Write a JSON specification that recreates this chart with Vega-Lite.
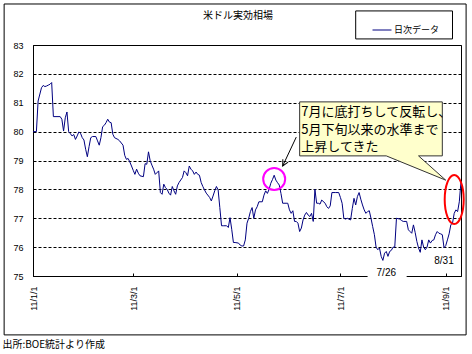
{
  "$schema": "https://vega.github.io/schema/vega-lite/v6.json",
  "width": 428,
  "height": 231,
  "autosize": "none",
  "padding": {"left": 33, "top": 45, "right": 11, "bottom": 78},
  "background": "white",
  "title": {"text": "米ドル実効相場", "frame": "group", "font": "Noto Sans CJK JP", "fontSize": 10, "fontWeight": "normal", "color": "black", "anchor": "middle", "dx": -9, "offset": -18},
  "config": {"view": {"stroke": "black", "strokeWidth": 1}, "font": "Liberation Sans"},
  "datasets": {
    "fx": [
      {"date":"2011-01-01","value":80.00},{"date":"2011-01-03","value":80.00},{"date":"2011-01-04","value":81.06},{"date":"2011-01-06","value":81.52},{"date":"2011-01-07","value":81.60},{"date":"2011-01-08","value":81.56},{"date":"2011-01-09","value":81.58},{"date":"2011-01-10","value":81.61},{"date":"2011-01-11","value":81.64},{"date":"2011-01-12","value":81.70},{"date":"2011-01-13","value":80.52},{"date":"2011-01-17","value":80.52},{"date":"2011-01-18","value":80.43},{"date":"2011-01-19","value":80.02},{"date":"2011-01-20","value":80.48},{"date":"2011-01-21","value":80.68},{"date":"2011-01-22","value":80.00},{"date":"2011-01-23","value":79.93},{"date":"2011-01-24","value":79.85},{"date":"2011-01-25","value":79.90},{"date":"2011-01-26","value":79.73},{"date":"2011-01-27","value":79.85},{"date":"2011-01-28","value":79.99},{"date":"2011-01-29","value":79.94},{"date":"2011-01-30","value":79.79},{"date":"2011-01-31","value":79.71},
      {"date":"2011-02-01","value":79.39},{"date":"2011-02-02","value":79.13},{"date":"2011-02-03","value":79.48},{"date":"2011-02-04","value":79.79},{"date":"2011-02-05","value":79.83},{"date":"2011-02-07","value":79.83},{"date":"2011-02-08","value":79.68},{"date":"2011-02-09","value":79.53},{"date":"2011-02-10","value":79.79},{"date":"2011-02-11","value":80.17},{"date":"2011-02-12","value":80.22},{"date":"2011-02-13","value":80.31},{"date":"2011-02-14","value":80.43},{"date":"2011-02-15","value":80.33},{"date":"2011-02-16","value":80.31},{"date":"2011-02-17","value":79.91},{"date":"2011-02-18","value":79.79},{"date":"2011-02-20","value":79.73},{"date":"2011-02-21","value":79.68},{"date":"2011-02-23","value":79.53},{"date":"2011-02-24","value":79.18},{"date":"2011-02-25","value":79.04},{"date":"2011-02-26","value":79.07},{"date":"2011-02-27","value":78.95},{"date":"2011-02-28","value":78.81},
      {"date":"2011-03-01","value":78.66},{"date":"2011-03-02","value":78.52},{"date":"2011-03-03","value":78.70},{"date":"2011-03-04","value":78.56},{"date":"2011-03-05","value":78.47},{"date":"2011-03-07","value":78.44},{"date":"2011-03-08","value":78.89},{"date":"2011-03-09","value":78.87},{"date":"2011-03-10","value":79.30},{"date":"2011-03-11","value":78.99},{"date":"2011-03-12","value":78.84},{"date":"2011-03-13","value":78.70},{"date":"2011-03-14","value":78.52},{"date":"2011-03-16","value":78.64},{"date":"2011-03-17","value":77.89},{"date":"2011-03-18","value":77.83},{"date":"2011-03-19","value":78.18},{"date":"2011-03-20","value":78.06},{"date":"2011-03-21","value":78.00},{"date":"2011-03-22","value":77.87},{"date":"2011-03-23","value":77.80},{"date":"2011-03-24","value":78.10},{"date":"2011-03-25","value":77.95},{"date":"2011-03-26","value":77.83},{"date":"2011-03-27","value":78.12},{"date":"2011-03-28","value":78.24},{"date":"2011-03-30","value":78.41},{"date":"2011-03-31","value":78.64},
      {"date":"2011-04-01","value":78.58},{"date":"2011-04-02","value":78.47},{"date":"2011-04-03","value":78.81},{"date":"2011-04-04","value":78.70},{"date":"2011-04-05","value":78.64},{"date":"2011-04-06","value":78.52},{"date":"2011-04-07","value":78.60},{"date":"2011-04-08","value":78.52},{"date":"2011-04-09","value":78.49},{"date":"2011-04-10","value":78.24},{"date":"2011-04-11","value":78.10},{"date":"2011-04-12","value":77.98},{"date":"2011-04-13","value":77.87},{"date":"2011-04-15","value":77.72},{"date":"2011-04-16","value":77.60},{"date":"2011-04-17","value":77.77},{"date":"2011-04-18","value":77.95},{"date":"2011-04-19","value":78.10},{"date":"2011-04-20","value":77.98},{"date":"2011-04-21","value":77.37},{"date":"2011-04-22","value":76.74},{"date":"2011-04-23","value":76.74},{"date":"2011-04-25","value":76.74},{"date":"2011-04-26","value":76.68},{"date":"2011-04-27","value":77.02},{"date":"2011-04-28","value":76.62},{"date":"2011-04-29","value":76.16},{"date":"2011-04-30","value":76.16},
      {"date":"2011-05-02","value":76.14},{"date":"2011-05-03","value":76.07},{"date":"2011-05-04","value":76.04},{"date":"2011-05-05","value":76.04},{"date":"2011-05-06","value":76.25},{"date":"2011-05-07","value":76.83},{"date":"2011-05-08","value":77.00},{"date":"2011-05-09","value":77.23},{"date":"2011-05-10","value":77.37},{"date":"2011-05-11","value":77.00},{"date":"2011-05-12","value":77.29},{"date":"2011-05-13","value":77.40},{"date":"2011-05-14","value":77.57},{"date":"2011-05-16","value":77.57},{"date":"2011-05-17","value":77.80},{"date":"2011-05-18","value":77.95},{"date":"2011-05-19","value":77.86},{"date":"2011-05-20","value":78.00},{"date":"2011-05-21","value":78.21},{"date":"2011-05-22","value":78.34},{"date":"2011-05-23","value":78.49},{"date":"2011-05-24","value":78.32},{"date":"2011-05-25","value":78.23},{"date":"2011-05-26","value":78.15},{"date":"2011-05-27","value":77.86},{"date":"2011-05-28","value":77.52},{"date":"2011-05-30","value":77.52},{"date":"2011-05-31","value":77.52},
      {"date":"2011-06-01","value":77.29},{"date":"2011-06-02","value":77.17},{"date":"2011-06-03","value":77.26},{"date":"2011-06-04","value":76.89},{"date":"2011-06-05","value":76.89},{"date":"2011-06-06","value":76.83},{"date":"2011-06-07","value":76.54},{"date":"2011-06-08","value":76.66},{"date":"2011-06-09","value":76.94},{"date":"2011-06-10","value":77.11},{"date":"2011-06-11","value":77.20},{"date":"2011-06-12","value":77.11},{"date":"2011-06-13","value":77.06},{"date":"2011-06-14","value":77.17},{"date":"2011-06-15","value":76.89},{"date":"2011-06-16","value":78.00},{"date":"2011-06-17","value":77.52},{"date":"2011-06-18","value":77.52},{"date":"2011-06-19","value":77.49},{"date":"2011-06-20","value":77.63},{"date":"2011-06-22","value":77.52},{"date":"2011-06-23","value":77.40},{"date":"2011-06-24","value":77.34},{"date":"2011-06-25","value":77.43},{"date":"2011-06-26","value":77.89},{"date":"2011-06-28","value":77.89},{"date":"2011-06-30","value":77.89},
      {"date":"2011-07-01","value":77.72},{"date":"2011-07-02","value":77.52},{"date":"2011-07-03","value":77.00},{"date":"2011-07-04","value":76.97},{"date":"2011-07-05","value":77.00},{"date":"2011-07-07","value":76.94},{"date":"2011-07-08","value":77.34},{"date":"2011-07-09","value":77.69},{"date":"2011-07-10","value":77.46},{"date":"2011-07-11","value":77.75},{"date":"2011-07-12","value":77.89},{"date":"2011-07-13","value":77.66},{"date":"2011-07-14","value":77.46},{"date":"2011-07-15","value":77.29},{"date":"2011-07-16","value":77.17},{"date":"2011-07-17","value":77.23},{"date":"2011-07-18","value":77.26},{"date":"2011-07-19","value":77.00},{"date":"2011-07-20","value":76.71},{"date":"2011-07-21","value":76.43},{"date":"2011-07-22","value":76.00},{"date":"2011-07-23","value":75.91},{"date":"2011-07-24","value":75.97},{"date":"2011-07-25","value":75.68},{"date":"2011-07-26","value":75.54},{"date":"2011-07-27","value":75.79},{"date":"2011-07-28","value":75.85},{"date":"2011-07-29","value":75.68},{"date":"2011-07-30","value":75.85},{"date":"2011-07-31","value":75.89},
      {"date":"2011-08-01","value":76.00},{"date":"2011-08-02","value":76.00},{"date":"2011-08-03","value":77.00},{"date":"2011-08-05","value":76.97},{"date":"2011-08-06","value":76.92},{"date":"2011-08-07","value":76.89},{"date":"2011-08-09","value":76.89},{"date":"2011-08-10","value":76.60},{"date":"2011-08-11","value":76.54},{"date":"2011-08-12","value":76.48},{"date":"2011-08-13","value":76.77},{"date":"2011-08-14","value":76.51},{"date":"2011-08-15","value":76.20},{"date":"2011-08-16","value":75.97},{"date":"2011-08-17","value":75.82},{"date":"2011-08-18","value":76.25},{"date":"2011-08-19","value":76.00},{"date":"2011-08-20","value":75.91},{"date":"2011-08-21","value":76.00},{"date":"2011-08-22","value":76.25},{"date":"2011-08-23","value":76.14},{"date":"2011-08-24","value":76.23},{"date":"2011-08-25","value":76.25},{"date":"2011-08-26","value":76.43},{"date":"2011-08-27","value":76.54},{"date":"2011-08-28","value":76.48},{"date":"2011-08-29","value":76.46},{"date":"2011-08-30","value":76.43},{"date":"2011-08-31","value":75.98},
      {"date":"2011-09-01","value":76.05},{"date":"2011-09-02","value":76.25},{"date":"2011-09-03","value":76.46},{"date":"2011-09-04","value":76.77},{"date":"2011-09-05","value":76.83},{"date":"2011-09-06","value":77.17},{"date":"2011-09-07","value":77.29},{"date":"2011-09-08","value":77.23},{"date":"2011-09-09","value":77.57},{"date":"2011-09-10","value":78.28}
    ],
    "frame": [{"date":"2010-12-15","date2":"2011-09-13","value":84.42,"value2":72.96}],
    "legendBox": [{"date":"2011-07-10","date2":"2011-09-05","value":84.18,"value2":83.21}],
    "footer": [{"date":"2010-12-14","value":72.61,"text":"出所:BOE統計より作成"}],
    "callout": [
      {"date":"2011-06-07","value":81.03,"order":1},
      {"date":"2011-08-30","value":81.03,"order":2},
      {"date":"2011-08-30","value":79.16,"order":3},
      {"date":"2011-08-16","value":79.16,"order":4},
      {"date":"2011-09-01","value":78.32,"order":5},
      {"date":"2011-07-28","value":79.16,"order":6},
      {"date":"2011-06-07","value":79.16,"order":7},
      {"date":"2011-06-07","value":81.03,"order":8}
    ],
    "calloutText": [
      {"date":"2011-06-08","value":80.69,"text":"7月に底打ちして反転し、"},
      {"date":"2011-06-08","value":80.07,"text":"5月下旬以来の水準まで"},
      {"date":"2011-06-08","value":79.46,"text":"上昇してきた"}
    ],
    "arrow": [{"date":"2011-06-05","value":79.81},{"date":"2011-05-28","value":78.81}],
    "arrowHead": [{"date":"2011-05-28","value":78.81}],
    "circle": [{"date":"2011-05-23","value":78.36}],
    "ellipse": [{"date":"2011-09-06","value":77.65}],
    "whiteBox": [{"date":"2011-07-17","date2":"2011-08-09","value":75.31,"value2":74.79}],
    "lows": [{"date":"2011-07-28","value":75.10,"text":"7/26"},{"date":"2011-08-31","value":75.52,"text":"8/31"}]
  },
  "encoding": {
    "x": {
      "field": "date", "type": "temporal",
      "scale": {"type": "utc", "domain": [{"year":2011,"month":1,"date":1,"utc":true},{"year":2011,"month":9,"date":10,"utc":true}]},
      "axis": {
        "title": null, "grid": false,
        "values": [{"year":2011,"month":1,"date":1,"utc":true},{"year":2011,"month":3,"date":1,"utc":true},{"year":2011,"month":5,"date":1,"utc":true},{"year":2011,"month":7,"date":1,"utc":true},{"year":2011,"month":9,"date":1,"utc":true}],
        "format": "%y/%-m/%-d", "labelAngle": 270, "labelAlign": "right", "labelBaseline": "middle",
        "labelFontSize": 9, "labelColor": "black", "labelPadding": 13,
        "tickSize": -3, "tickColor": "black", "domainColor": "black"
      }
    },
    "y": {
      "field": "value", "type": "quantitative",
      "scale": {"domain": [75, 83], "nice": false, "zero": false},
      "axis": {
        "title": null, "values": [75,76,77,78,79,80,81,82,83], "ticks": false,
        "labelFontSize": 9, "labelColor": "black", "labelPadding": 10,
        "grid": true, "gridColor": "black", "gridDash": [3, 2], "gridOpacity": 1, "domainColor": "black"
      }
    }
  },
  "layer": [
    {"data": {"name": "frame"}, "mark": {"type": "rect", "filled": false, "stroke": "black", "strokeWidth": 1}, "encoding": {"x2": {"field": "date2"}, "y2": {"field": "value2"}}},
    {"data": {"name": "legendBox"}, "mark": {"type": "rect", "filled": false, "stroke": "black", "strokeWidth": 1}, "encoding": {"x2": {"field": "date2"}, "y2": {"field": "value2"}}},
    {"data": {"name": "fx"}, "mark": {"type": "line", "strokeWidth": 1},
     "encoding": {"color": {"datum": "日次データ", "type": "nominal", "scale": {"range": ["#000080"]},
        "legend": {"title": null, "orient": "none", "legendX": 339, "legendY": -25, "symbolType": "stroke", "symbolSize": 361, "symbolStrokeWidth": 1, "labelFont": "Noto Sans CJK JP", "labelFontSize": 9, "labelColor": "black", "padding": 0, "labelOffset": 2}}}},
    {"data": {"name": "callout"}, "mark": {"type": "line", "fill": "#FFFFCC", "stroke": "#333333", "strokeWidth": 1}, "encoding": {"order": {"field": "order"}}},
    {"data": {"name": "calloutText"}, "mark": {"type": "text", "align": "left", "baseline": "middle", "font": "Noto Sans CJK JP", "fontSize": 13, "color": "black"}, "encoding": {"text": {"field": "text"}}},
    {"data": {"name": "arrow"}, "mark": {"type": "line", "stroke": "black", "strokeWidth": 1}},
    {"data": {"name": "arrowHead"}, "mark": {"type": "point", "shape": "M-0.5,1L0,0L0.5,1", "angle": 208, "size": 144, "filled": false, "stroke": "black", "strokeWidth": 1, "opacity": 1}},
    {"data": {"name": "circle"}, "mark": {"type": "point", "shape": "circle", "size": 484, "filled": false, "stroke": "#FF00FF", "strokeWidth": 2, "opacity": 1}},
    {"data": {"name": "ellipse"}, "mark": {"type": "point", "shape": "M0,-1C0.2143,-1,0.388,-0.5523,0.388,0C0.388,0.5523,0.2143,1,0,1C-0.2143,1,-0.388,0.5523,-0.388,0C-0.388,-0.5523,-0.2143,-1,0,-1Z", "size": 2401, "filled": false, "stroke": "#FF0000", "strokeWidth": 2, "opacity": 1}},
    {"data": {"name": "whiteBox"}, "mark": {"type": "rect", "fill": "white", "stroke": null}, "encoding": {"x2": {"field": "date2"}, "y2": {"field": "value2"}}},
    {"data": {"name": "lows"}, "mark": {"type": "text", "align": "center", "baseline": "middle", "fontSize": 10, "color": "black"}, "encoding": {"text": {"field": "text"}}},
    {"data": {"name": "footer"}, "mark": {"type": "text", "align": "left", "baseline": "middle", "font": "Noto Sans CJK JP", "fontSize": 10, "color": "black"}, "encoding": {"text": {"field": "text"}}}
  ]
}
